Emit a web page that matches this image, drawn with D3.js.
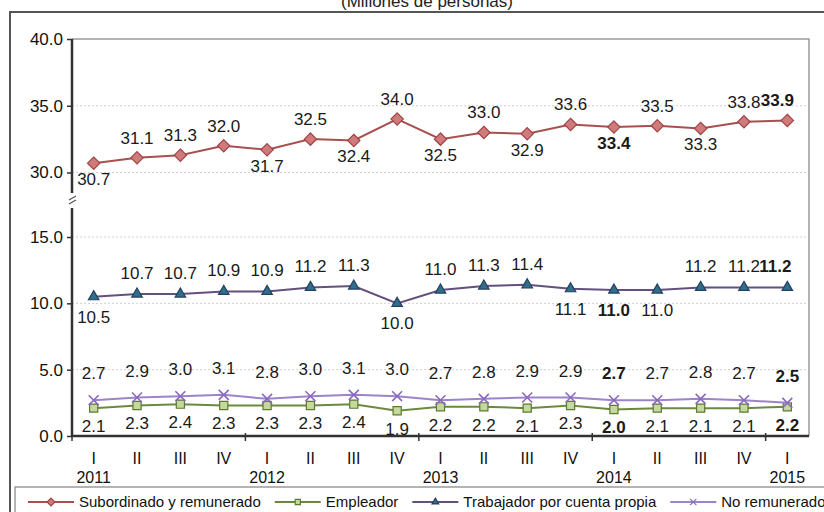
<!DOCTYPE html>
<html>
<head>
<meta charset="utf-8">
<script src="https://cdn.jsdelivr.net/npm/d3@7"></script>
<style>
  html, body { margin: 0; padding: 0; background: #fff; }
  svg { display: block; font-family: "Liberation Sans", Arial, sans-serif; }
</style>
</head>
<body>
<div id="chart"></div>
<script>
const width = 824;
const height = 512;

// quarters and years
const quarters = ["I", "II", "III", "IV", "I", "II", "III", "IV", "I", "II", "III", "IV", "I", "II", "III", "IV", "I"];
const years = ["2011", "2012", "2013", "2014", "2015"];

// series (millones de personas)
const subordinado = [30.7, 31.1, 31.3, 32.0, 31.7, 32.5, 32.4, 34.0, 32.5, 33.0, 32.9, 33.6, 33.4, 33.5, 33.3, 33.8, 33.9];
const empleador = [2.1, 2.3, 2.4, 2.3, 2.3, 2.3, 2.4, 1.9, 2.2, 2.2, 2.1, 2.3, 2.0, 2.1, 2.1, 2.1, 2.2];
const cuentaPropia = [10.5, 10.7, 10.7, 10.9, 10.9, 11.2, 11.3, 10.0, 11.0, 11.3, 11.4, 11.1, 11.0, 11.0, 11.2, 11.2, 11.2];
const noRemunerado = [2.7, 2.9, 3.0, 3.1, 2.8, 3.0, 3.1, 3.0, 2.7, 2.8, 2.9, 2.9, 2.7, 2.7, 2.8, 2.7, 2.5];

const upperTicks = [30, 35, 40];
const lowerTicks = [0, 5, 10, 15];

const plot = { left: 72, right: 809, top: 39, bottom: 436 };

const svg = d3.select("#chart")
  .append("svg")
  .attr("width", width)
  .attr("height", height);

const idx = d3.range(quarters.length);

const x = d3.scalePoint()
  .domain(idx)
  .range([plot.left, plot.right])
  .padding(0.5);

const step = x.step();

// broken y axis: two pieces with the same units per px
const yHi = d3.scaleLinear().domain([30, 40]).range([172.5, plot.top]);
const yLo = d3.scaleLinear().domain([0, 15]).range([plot.bottom, 237]);

// outer frame and title
svg.append("path")
  .attr("d", `M10,${height + 5}V12H${width + 5}`)
  .attr("fill", "none")
  .attr("stroke", "#555")
  .attr("stroke-width", 2);

svg.append("text")
  .attr("x", 427)
  .attr("y", 7)
  .attr("text-anchor", "middle")
  .attr("font-size", 17)
  .attr("fill", "#222")
  .text("(Millones de personas)");

// grid
const grid = svg.append("g")
  .attr("stroke", "#cfcfcf")
  .attr("stroke-width", 1)
  .attr("stroke-dasharray", "2,2");

grid.selectAll("line.hi")
  .data(upperTicks.filter(d => d < 40))
  .join("line")
  .attr("class", "hi")
  .attr("x1", plot.left).attr("x2", plot.right)
  .attr("y1", d => yHi(d)).attr("y2", d => yHi(d));

grid.selectAll("line.lo")
  .data(lowerTicks.filter(d => d > 0))
  .join("line")
  .attr("class", "lo")
  .attr("x1", plot.left).attr("x2", plot.right)
  .attr("y1", d => yLo(d)).attr("y2", d => yLo(d));

// top and right border of plot
svg.append("path")
  .attr("d", `M${plot.left},${plot.top}H${plot.right}V${plot.bottom}`)
  .attr("fill", "none")
  .attr("stroke", "#9a9a9a")
  .attr("stroke-width", 1.5);

// y axes
const axisHi = d3.axisLeft(yHi).tickValues(upperTicks).tickSize(5).tickFormat(d3.format(".1f"));
const axisLo = d3.axisLeft(yLo).tickValues(lowerTicks).tickSize(5).tickFormat(d3.format(".1f"));

function styleAxis(g) {
  g.select(".domain").remove();
  g.selectAll(".tick line").attr("stroke", "#333").attr("stroke-width", 1.5);
  g.selectAll(".tick text")
    .attr("font-size", 17)
    .attr("font-family", "Liberation Sans, Arial, sans-serif")
    .attr("fill", "#111")
    .attr("x", -9);
}

svg.append("g").attr("transform", `translate(${plot.left},0)`).call(axisHi).call(styleAxis);
svg.append("g").attr("transform", `translate(${plot.left},0)`).call(axisLo).call(styleAxis);

svg.append("line")
  .attr("x1", plot.left).attr("x2", plot.left)
  .attr("y1", plot.top).attr("y2", 193)
  .attr("stroke", "#333").attr("stroke-width", 2.5);
svg.append("line")
  .attr("x1", plot.left).attr("x2", plot.left)
  .attr("y1", 208).attr("y2", plot.bottom)
  .attr("stroke", "#333").attr("stroke-width", 2.5);

// break marks
svg.append("g")
  .attr("stroke", "#555")
  .attr("stroke-width", 1.2)
  .selectAll("line")
  .data([198, 202])
  .join("line")
  .attr("x1", plot.left - 3).attr("x2", plot.left + 4)
  .attr("y1", d => d + 2).attr("y2", d => d - 2);

// x axis
svg.append("line")
  .attr("x1", plot.left).attr("x2", plot.right)
  .attr("y1", plot.bottom).attr("y2", plot.bottom)
  .attr("stroke", "#333").attr("stroke-width", 2.5);

const yearBounds = [0, 4, 8, 12, 16];
svg.append("g")
  .attr("stroke", "#333")
  .attr("stroke-width", 1.5)
  .selectAll("line")
  .data(yearBounds)
  .join("line")
  .attr("x1", d => x(d) - step / 2).attr("x2", d => x(d) - step / 2)
  .attr("y1", plot.bottom - 3).attr("y2", plot.bottom + 5);

svg.append("g")
  .selectAll("text")
  .data(idx)
  .join("text")
  .attr("x", d => x(d))
  .attr("y", 464)
  .attr("text-anchor", "middle")
  .attr("font-size", 16)
  .attr("fill", "#111")
  .text(d => quarters[d]);

svg.append("g")
  .selectAll("text")
  .data(years)
  .join("text")
  .attr("x", (d, i) => x(yearBounds[i]))
  .attr("y", 483)
  .attr("text-anchor", "middle")
  .attr("font-size", 16)
  .attr("fill", "#111")
  .text(d => d);

// series definitions
const series = [
  { name: "Subordinado y remunerado", values: subordinado, y: yHi, line: "#a84f50", fill: "#cf7b7b", stroke: "#a04446", marker: "diamond", above: -14, below: 22 },
  { name: "Empleador", values: empleador, y: yLo, line: "#6b8a3d", fill: "#c5d89d", stroke: "#5c7a31", marker: "square", above: -22, below: 24 },
  { name: "Trabajador por cuenta propia", values: cuentaPropia, y: yLo, line: "#63507f", fill: "#2f6f88", stroke: "#263f63", marker: "triangle", above: -15, below: 26 },
  { name: "No remunerado", values: noRemunerado, y: yLo, line: "#9c84c8", fill: "none", stroke: "#8b68c0", marker: "x", above: -21, below: 24 }
];

// label side: below when the value drops (or stays flat after a drop)
function labelSides(values, forceAbove, forceBelow) {
  const sides = [];
  values.forEach((v, i) => {
    if (forceAbove) { sides.push(false); return; }
    if (forceBelow) { sides.push(true); return; }
    if (i === 0) { sides.push(true); return; }
    const p = values[i - 1];
    sides.push(v < p || (v === p && sides[i - 1]));
  });
  return sides;
}
series[0].sides = labelSides(subordinado);
series[1].sides = labelSides(empleador, false, true);
series[2].sides = labelSides(cuentaPropia);
series[3].sides = labelSides(noRemunerado, true, false);

const boldIdx = [12, 16];

function markerPath(type, s) {
  if (type === "diamond") return d3.symbol(d3.symbolDiamond2, s * s * 0.8)();
  if (type === "square") return d3.symbol(d3.symbolSquare2, s * s * 0.7)();
  if (type === "triangle") return d3.symbol(d3.symbolTriangle2, s * s * 0.65)();
  return d3.symbol(d3.symbolX, s * s * 0.55)();
}

series.forEach(s => {
  const g = svg.append("g");
  const line = d3.line().x((d, i) => x(i)).y(d => s.y(d));

  g.append("path")
    .datum(s.values)
    .attr("d", line)
    .attr("fill", "none")
    .attr("stroke", s.line)
    .attr("stroke-width", 2);

  g.selectAll("path.m")
    .data(s.values)
    .join("path")
    .attr("class", "m")
    .attr("transform", (d, i) => `translate(${x(i)},${s.y(d)})`)
    .attr("d", markerPath(s.marker, 11))
    .attr("fill", s.fill)
    .attr("stroke", s.stroke)
    .attr("stroke-width", s.marker === "x" ? 1.6 : 1.2);
});

series.forEach(s => {
  svg.append("g")
    .selectAll("text")
    .data(s.values)
    .join("text")
    .attr("x", (d, i) => x(i) + (i === 16 && s.y === yHi ? -10 : 0) + (i === 16 && s.name.startsWith("Trabajador") ? -12 : 0))
    .attr("y", (d, i) => s.y(d) + (s.sides[i] ? s.below : s.above))
    .attr("text-anchor", "middle")
    .attr("font-size", 17)
    .attr("font-weight", (d, i) => boldIdx.includes(i) ? "bold" : "normal")
    .attr("fill", "#1a1a1a")
    .text(d => d3.format(".1f")(d));
});

// legend
svg.append("rect")
  .attr("x", 15).attr("y", 487)
  .attr("width", width).attr("height", 40)
  .attr("fill", "#fff")
  .attr("stroke", "#9a9a9a")
  .attr("stroke-width", 1.5);

let lx = 28;
series.forEach(s => {
  const g = svg.append("g").attr("transform", `translate(${lx},502)`);
  g.append("line")
    .attr("x1", 0).attr("x2", 46)
    .attr("stroke", s.line).attr("stroke-width", 2);
  g.append("path")
    .attr("transform", "translate(23,0)")
    .attr("d", markerPath(s.marker, 7))
    .attr("fill", s.fill)
    .attr("stroke", s.stroke)
    .attr("stroke-width", 1.2);
  const t = g.append("text")
    .attr("x", 51)
    .attr("y", 5)
    .attr("font-size", 15)
    .attr("fill", "#111")
    .text(s.name);
  lx += 51 + t.node().getComputedTextLength() + 14;
});
</script>
</body>
</html>
